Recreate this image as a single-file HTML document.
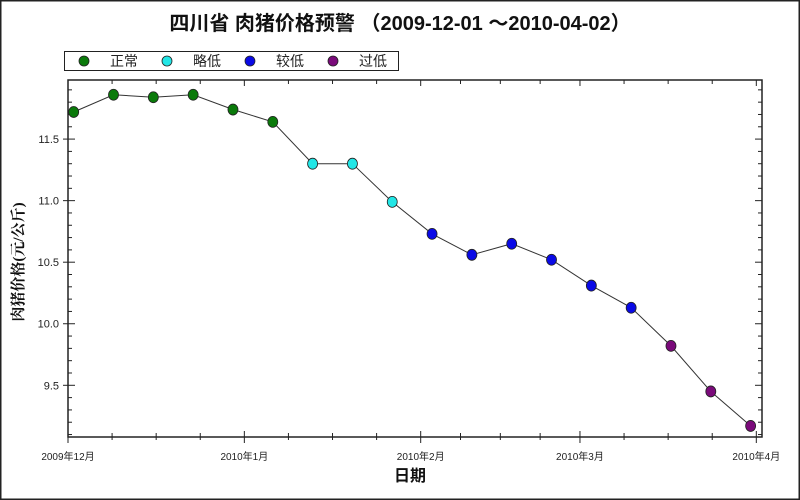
<!DOCTYPE html>
<html><head><meta charset="utf-8">
<style>
html,body{margin:0;padding:0;background:#fff;}
svg{display:block;font-family:"Liberation Sans","Noto Sans CJK SC",sans-serif;}
</style></head>
<body>
<svg width="800" height="500" viewBox="0 0 800 500" xmlns="http://www.w3.org/2000/svg">
<rect x="0.5" y="0.5" width="799" height="499" fill="#fff" stroke="#222" stroke-width="2"/>
<text x="400" y="30" text-anchor="middle" font-size="20" font-weight="bold" fill="#111">四川省 肉猪价格预警 （2009-12-01 ～2010-04-02）</text>
<g id="legend">
<rect x="64.5" y="51.5" width="334" height="19" fill="#fff" stroke="#222"/>
</g>
<g id="axes"></g>
<g id="series"></g>
<text x="410" y="481" text-anchor="middle" font-size="16" font-weight="bold" fill="#111">日期</text>
<text transform="translate(23,262) rotate(-90)" text-anchor="middle" font-size="15" font-weight="bold" fill="#111" style="font-family:'Liberation Serif','Noto Serif CJK SC',serif">肉猪价格(元/公斤)</text>
</svg>
<script>
const dayOffsets=[1,8,15,22,29,36,43,50,57,64,71,78,85,92,99,106,113,120];
const prices=[11.72,11.86,11.84,11.86,11.74,11.64,11.30,11.30,10.99,10.73,10.56,10.65,10.52,10.31,10.13,9.82,9.45,9.17];
const levels=[0,0,0,0,0,0,1,1,1,2,2,2,2,2,2,3,3,3];
const levelNames=["正常","略低","较低","过低"];
const levelColors=["#0a7a0a","#22e6e6","#0a0ae6","#7a0a7a"];
const monthLabels=["2009年12月","2010年1月","2010年2月","2010年3月","2010年4月"];
const monthDays=[0,31,62,90,121];
const yTicks=[9.5,10.0,10.5,11.0,11.5];

const NS="http://www.w3.org/2000/svg";
const L=68,R=762,T=80,B=437;
const dMin=0,dMax=122;
const vMin=9.08,vMax=11.98;
function xs(d){return L+(d-dMin)/(dMax-dMin)*(R-L);}
function ys(v){return B-(v-vMin)/(vMax-vMin)*(B-T);}
function mk(tag,attrs,parent){const e=document.createElementNS(NS,tag);for(const k in attrs)e.setAttribute(k,attrs[k]);parent.appendChild(e);return e;}

const ax=document.getElementById('axes');
const frame=mk('rect',{x:L,y:T,width:R-L,height:B-T,fill:'none',stroke:'#222','stroke-width':1.5},ax);


for(let v=9.1;v<=11.95;v+=0.1){
  const y=ys(v);const major=Math.abs(v*2-Math.round(v*2))<1e-6;
  const len=major?7:4;
  const t1=mk('line',{x1:L-(major?5:0),x2:L+len,y1:y,y2:y,stroke:'#222'},ax);
  
  
  const t2=mk('line',{x1:R-len,x2:R,y1:y,y2:y,stroke:'#222'},ax);
  
  
}
yTicks.forEach(v=>{
  const t=mk('text',{x:L-9,y:ys(v)+4,'text-anchor':'end','font-size':11,fill:'#222'},ax);
  t.textContent=v.toFixed(1);
  
  
});
for(let i=0;i<monthDays.length;i++){
  const x=xs(monthDays[i]);
  const t=mk('line',{x1:x,x2:x,y1:B-6,y2:B+6,stroke:'#222'},ax);
  
  
  const tt=mk('line',{x1:x,x2:x,y1:T,y2:T+6,stroke:'#222'},ax);
  
  
  const lb=mk('text',{x:x,y:B+23,'text-anchor':'middle','font-size':10,fill:'#222'},ax);
  lb.textContent=monthLabels[i];
  
  
  if(i<monthDays.length-1){
    for(let k=1;k<4;k++){
      const mx=xs(monthDays[i]+(monthDays[i+1]-monthDays[i])*k/4);
      const m=mk('line',{x1:mx,x2:mx,y1:B-4,y2:B+3,stroke:'#222'},ax);
      
      
      const mt=mk('line',{x1:mx,x2:mx,y1:T,y2:T+4,stroke:'#222'},ax);
      
      
    }
  }
}
const sg=document.getElementById('series');
const pts=dayOffsets.map((d,i)=>xs(d).toFixed(1)+','+ys(prices[i]).toFixed(1)).join(' ');
const line=mk('polyline',{points:pts,fill:'none',stroke:'#333','stroke-width':1},sg);


dayOffsets.forEach((d,i)=>{
  const c=mk('ellipse',{cx:xs(d),cy:ys(prices[i]),rx:5,ry:5.5,fill:levelColors[levels[i]],stroke:'#222','stroke-width':0.8},sg);
  
  
});
const lg=document.getElementById('legend');
levelNames.forEach((n,i)=>{
  const x=84+i*83;
  const c=mk('circle',{cx:x,cy:61,r:5,fill:levelColors[i],stroke:'#222','stroke-width':0.8},lg);
  
  
  const t=mk('text',{x:x+26,y:66,'font-size':14,fill:'#222'},lg);
  t.textContent=n;
  
  
});
</script>
</body></html>
